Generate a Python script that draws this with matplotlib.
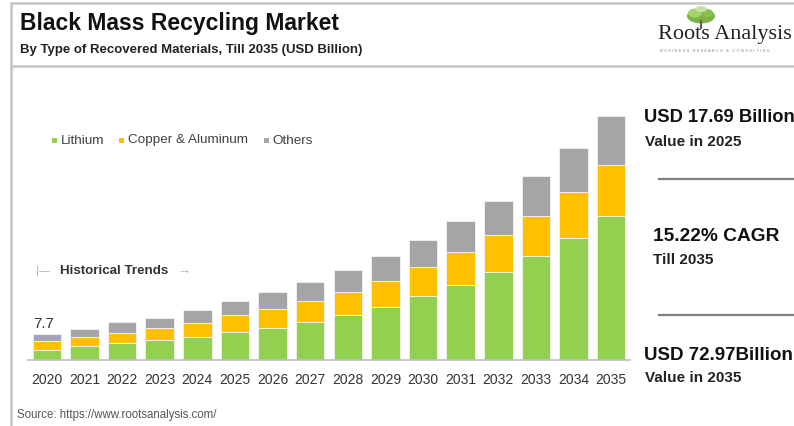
import matplotlib.pyplot as plt
from matplotlib.patches import Rectangle, Ellipse
from matplotlib.lines import Line2D

years = [str(y) for y in range(2020, 2036)]
lithium = [3.0, 4.0, 5.0, 5.9, 6.9, 8.19, 9.4, 11.4, 13.4, 15.8, 19.1, 22.4, 26.4, 31.0, 36.5, 43.0]
copper_aluminum = [2.6, 2.7, 3.1, 3.6, 4.2, 5.2, 5.8, 6.1, 6.9, 7.7, 8.6, 9.8, 11.0, 12.2, 13.7, 15.4]
others = [2.1, 2.6, 3.1, 3.1, 3.9, 4.3, 5.0, 5.7, 6.6, 7.5, 8.3, 9.3, 10.3, 11.8, 13.2, 14.6]
series_names = ["Lithium", "Copper & Aluminum", "Others"]
colors = ["#92D050", "#FFC000", "#A5A5A5"]

W, H = 794, 427
plt.rcParams['font.family'] = ['Liberation Sans', 'DejaVu Sans']

fig = plt.figure(figsize=(W / 100, H / 100), dpi=100)


def fx(x):
    return x / W


def fy(y):
    return 1 - y / H


# outer frame and header separator
fig.patches.append(Rectangle((fx(11), fy(440)), fx(820) - fx(11), fy(4) - fy(440),
                             transform=fig.transFigure, fill=False, edgecolor="#c4c4c4", lw=1.8))
fig.lines.append(Line2D([fx(11), 1], [fy(66.5), fy(66.5)], transform=fig.transFigure,
                        color="#c4c4c4", lw=1.8))

fig.text(fx(20), fy(23.5), "Black Mass Recycling Market", fontsize=16.5, fontweight="bold",
         color="#111111", va="center", ha="left")
fig.text(fx(20), fy(50), "By Type of Recovered Materials, Till 2035 (USD Billion)", fontsize=9.5,
         fontweight="bold", color="#222222", va="center", ha="left")

# logo
for (cx, cy, w, h, c) in [(701, 17, 28, 15, "#7cb342"), (695, 14, 14, 9, "#a5d46a"),
                          (707, 14, 12, 8, "#8cc152"), (701, 10, 12, 6, "#c5e1a5")]:
    fig.patches.append(Ellipse((fx(cx), fy(cy)), fx(w), h / H, transform=fig.transFigure,
                               color=c, lw=0))
fig.lines.append(Line2D([fx(701), fx(701)], [fy(22), fy(29)], transform=fig.transFigure,
                        color="#6d5c4a", lw=1.5))
fig.text(fx(658), fy(34), "Roots Analysis", fontsize=16, family="Liberation Serif",
         color="#222222", va="center", ha="left")
fig.text(fx(660), fy(51), "B U S I N E S S   R E S E A R C H   &   C O N S U L T I N G",
         fontsize=3, color="#888888", va="center", ha="left")

# chart
ax = fig.add_axes([fx(28), fy(360.5), fx(630) - fx(28), fy(100.5) - fy(360.5)])
x = list(range(len(years)))
bottom = [0] * len(years)
for vals, name, c in zip([lithium, copper_aluminum, others], series_names, colors):
    ax.bar(x, vals, width=0.76, bottom=bottom, color=c, edgecolor="#f4f4f4", lw=0.6, label=name)
    bottom = [b + v for b, v in zip(bottom, vals)]

ax.set_xlim(-0.5, 15.5)
ax.set_ylim(0, 78.1)
ax.set_xticks(x)
ax.set_xticklabels(years, fontsize=10, color="#333333")
ax.tick_params(axis="x", length=0, pad=9)
ax.set_yticks([])
for s in ["top", "right", "left"]:
    ax.spines[s].set_visible(False)
ax.spines["bottom"].set_color("#bfbfbf")
ax.spines["bottom"].set_linewidth(1.2)
ax.set_facecolor("none")

ax.text(-0.07, bottom[0] + 1.2, "7.7", ha="center", va="bottom", fontsize=11, color="#333333")

# legend
leg_items = [(52, 61, "Lithium"), (119, 128.5, "Copper & Aluminum"), (263.5, 272, "Others")]
for (mx, tx, name), c in zip(leg_items, colors):
    fig.patches.append(Rectangle((fx(mx), fy(143.5)), fx(5), 5 / H, transform=fig.transFigure,
                                 color=c, lw=0))
    fig.text(fx(tx), fy(140.5), name, fontsize=9.7, color="#404040", va="center", ha="left")

# historical trends marker
fig.text(fx(36), fy(271), "|\u2014", fontsize=8, color="#b0b0b0", va="center", ha="left")
fig.text(fx(60), fy(271), "Historical Trends", fontsize=9.6, fontweight="bold", color="#333333",
         va="center", ha="left")
fig.text(fx(177), fy(272), "\u2192", fontsize=9.5, color="#b0b0b0", va="center", ha="left")

fig.text(fx(17), fy(415), "Source: https://www.rootsanalysis.com/", fontsize=8.3, color="#555555",
         va="center", ha="left")

# right panel
fig.text(fx(644), fy(118), "USD 17.69 Billion", fontsize=13.2, fontweight="bold", color="#111111",
         va="center", ha="left")
fig.text(fx(645), fy(141.5), "Value in 2025", fontsize=11, fontweight="bold", color="#222222",
         va="center", ha="left")
fig.lines.append(Line2D([fx(659), 1], [fy(179.5), fy(179.5)], transform=fig.transFigure,
                        color="#808080", lw=1.6))
fig.text(fx(653), fy(237), "15.22% CAGR", fontsize=13.8, fontweight="bold", color="#111111",
         va="center", ha="left")
fig.text(fx(653), fy(260), "Till 2035", fontsize=11, fontweight="bold", color="#222222",
         va="center", ha="left")
fig.lines.append(Line2D([fx(659), 1], [fy(315.5), fy(315.5)], transform=fig.transFigure,
                        color="#808080", lw=1.6))
fig.text(fx(644), fy(355.5), "USD 72.97Billion", fontsize=13.5, fontweight="bold", color="#111111",
         va="center", ha="left")
fig.text(fx(645), fy(378.5), "Value in 2035", fontsize=11, fontweight="bold", color="#222222",
         va="center", ha="left")

fig.savefig("out.png", dpi=100)
